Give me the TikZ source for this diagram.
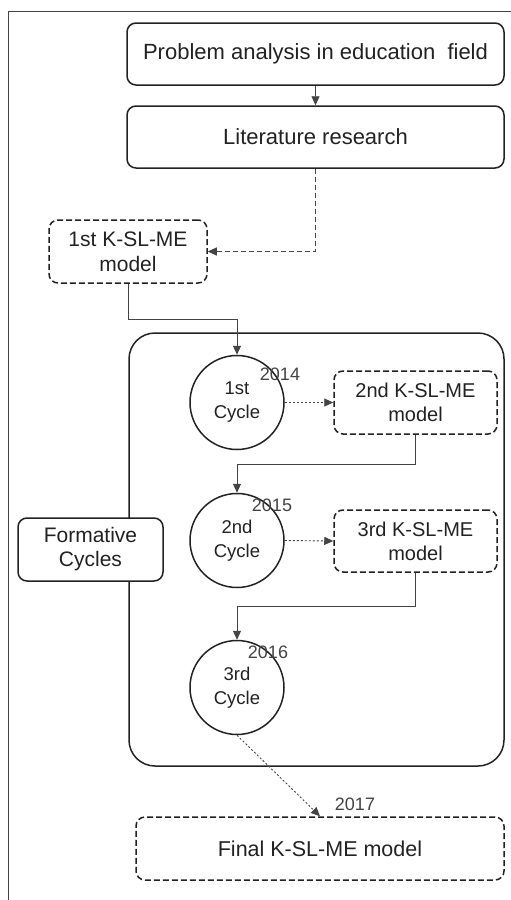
\documentclass[tikz,border=0pt]{standalone}
\usepackage{fontspec}
\setmainfont{Liberation Sans}
\usetikzlibrary{arrows.meta}
\definecolor{txt}{HTML}{222222}
\definecolor{bord}{HTML}{222222}
\definecolor{conn}{HTML}{444444}
\tikzset{
  box/.style={draw=bord, line width=1.5pt, rounded corners=9pt, text=txt, align=center, inner sep=0pt},
  dbox/.style={box, dash pattern=on 6pt off 3pt},
  cyc/.style={circle, draw=bord, line width=1.5pt, text=txt, align=center, minimum size=94pt, inner sep=0pt, font=\fontsize{18.5}{24}\selectfont},
  conline/.style={draw=conn, line width=0.9pt},
  tip/.style={-{Triangle[length=9pt,width=8pt]}},
  yr/.style={text=txt!85, font=\fontsize{18}{22}\selectfont, inner sep=0pt},
}
\begin{document}
\begin{tikzpicture}[x=1pt,y=-1pt]
\useasboundingbox (0,0) rectangle (511,900);
\draw[conn, line width=0.9pt] (511,11) -- (8,11) -- (8,900);
% nodes
\node[box, minimum width=377pt, minimum height=62pt, font=\fontsize{22}{26}\selectfont] (prob) at (315.5,54) {Problem analysis in education\ \ field};
\node[box, minimum width=377pt, minimum height=62pt, font=\fontsize{22}{26}\selectfont] (lit) at (315.5,137) {Literature research};
\node[dbox, minimum width=158pt, minimum height=63pt, font=\fontsize{21}{25}\selectfont] (m1) at (128,251.5) {1st K-SL-ME\\model};
\node[box, rounded corners=26pt, minimum width=375pt, minimum height=433pt] (fc) at (316.5,549.5) {};
\node[cyc] (c1) at (237,402.5) {1st\\Cycle};
\node[cyc] (c2) at (237,540.5) {2nd\\Cycle};
\node[cyc] (c3) at (237,687.5) {3rd\\Cycle};
\node[dbox, minimum width=163pt, minimum height=63pt, font=\fontsize{20}{24}\selectfont] (m2) at (415.5,402.5) {2nd K-SL-ME\\model};
\node[dbox, minimum width=163pt, minimum height=62pt, font=\fontsize{20}{24}\selectfont] (m3) at (415.5,541) {3rd K-SL-ME\\model};
\node[box, fill=white, minimum width=145pt, minimum height=63pt, font=\fontsize{21}{24}\selectfont] (form) at (90.5,549.5) {Formative\\Cycles};
\node[dbox, minimum width=368pt, minimum height=63pt, font=\fontsize{21.5}{25}\selectfont] (fin) at (320,848.5) {Final K-SL-ME model};
% year labels
\node[yr] (y14) at (280,374) {2014};
\node[yr] (y15) at (272,505) {2015};
\node[yr] (y16) at (268,652) {2016};
\node[yr] (y17) at (355,804) {2017};
% connectors
\draw[conline, tip] (prob.south) -- (lit.north);
\draw[conline, tip, dash pattern=on 5pt off 3pt] (lit.south) |- (m1.east);
\draw[conline, tip] (m1.south) -- ++(0,36) -| (c1.north);
\draw[conline, tip, dash pattern=on 2pt off 2pt] (c1.east) -- (m2.west);
\draw[conline, tip] (m2.south) -- ++(0,30) -| (c2.north);
\draw[conline, tip, dash pattern=on 2pt off 2pt] (c2.east) -- (m3.west);
\draw[conline, tip] (m3.south) -- ++(0,34) -| (c3.north);
\draw[conline, tip, dash pattern=on 2pt off 2pt] (c3.south) -- (fin.north);
\end{tikzpicture}
\end{document}
